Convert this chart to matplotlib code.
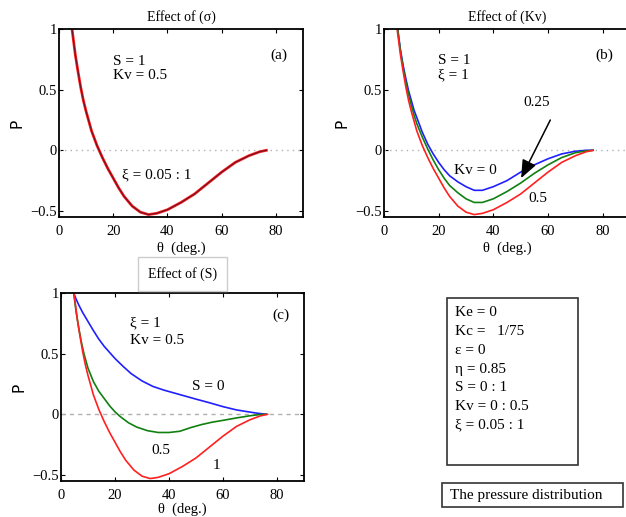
import matplotlib
matplotlib.use("Agg")
import matplotlib.pyplot as plt
from matplotlib.patches import Rectangle

plt.rcParams['font.family'] = ['Liberation Serif', 'DejaVu Serif']

# ---- data ----
# S = 1, Kv = 0.5 (same curve in all three panels)
th_red = [4.8, 6, 7, 8, 9, 10, 11, 12, 14, 16, 18, 20, 22, 24, 27, 30, 33, 36,
          40, 45, 50, 55, 60, 65, 70, 74, 76.5]
p_red = [1.0, 0.79, 0.65, 0.52, 0.41, 0.32, 0.24, 0.16, 0.04, -0.06, -0.15,
         -0.23, -0.31, -0.38, -0.46, -0.51, -0.53, -0.52, -0.49, -0.43, -0.36,
         -0.27, -0.18, -0.10, -0.045, -0.012, 0.0]

# panel (b): Kv = 0 and Kv = 0.25
th_b = [5, 6, 7, 8, 9, 10, 11, 12, 14, 16, 18, 20, 22, 24, 27, 30, 33, 36,
        40, 45, 50, 55, 60, 65, 70, 74, 76.5]
p_kv0 = [1.0, 0.83, 0.70, 0.59, 0.49, 0.41, 0.33, 0.27, 0.15, 0.05, -0.03,
         -0.10, -0.16, -0.21, -0.26, -0.30, -0.33, -0.33, -0.30, -0.25, -0.18,
         -0.12, -0.07, -0.03, -0.008, 0.0, 0.0]
p_kv025 = [1.0, 0.82, 0.68, 0.56, 0.46, 0.37, 0.29, 0.22, 0.11, 0.01, -0.08,
           -0.16, -0.23, -0.29, -0.35, -0.40, -0.43, -0.43, -0.40, -0.34, -0.27,
           -0.19, -0.12, -0.06, -0.02, -0.005, 0.0]

# panel (c): S = 0 and S = 0.5
th_s0 = [4.7, 5.5, 6.5, 8, 10, 12, 14, 16, 18, 20, 23, 26, 30, 34, 38, 42, 46,
         50, 55, 60, 65, 70, 73, 76]
p_s0 = [1.0, 0.955, 0.905, 0.84, 0.765, 0.69, 0.62, 0.56, 0.51, 0.46, 0.395,
        0.335, 0.275, 0.23, 0.20, 0.175, 0.15, 0.125, 0.095, 0.063, 0.036,
        0.018, 0.008, 0.0]
th_s05 = [4.7, 5.5, 6.5, 7.5, 8.5, 10, 12, 14, 16, 18, 20, 22, 25, 28, 32, 36,
          40, 44, 48, 52, 56, 60, 65, 70, 73, 76]
p_s05 = [1.0, 0.86, 0.72, 0.60, 0.50, 0.38, 0.27, 0.19, 0.13, 0.07, 0.02,
         -0.02, -0.07, -0.105, -0.135, -0.15, -0.15, -0.14, -0.11, -0.085,
         -0.065, -0.05, -0.03, -0.012, -0.004, 0.0]

xticks = [0, 20, 40, 60, 80]
yticks = [-0.5, 0, 0.5, 1]
ytick_labels = ['\u22120.5', '0', '0.5', '1']

params = ['Ke = 0', 'Kc =   1/75', '\u03b5 = 0', '\u03b7 = 0.85', 'S = 0 : 1',
          'Kv = 0 : 0.5', '\u03be = 0.05 : 1']

W, H = 626, 517
fig = plt.figure(figsize=(W / 100, H / 100), dpi=100)


def px_axes(x0, y0, x1, y1):
    return fig.add_axes([x0 / W, 1 - y1 / H, (x1 - x0) / W, (y1 - y0) / H])


def style(ax, xlpad=2):
    ax.set_xlim(0, 90)
    ax.set_ylim(-0.55, 1)
    ax.set_xticks(xticks)
    ax.set_yticks(yticks)
    ax.set_yticklabels(ytick_labels)
    ax.tick_params(direction='in', top=True, right=True, length=3,
                   width=0.8, labelsize=10.5)
    ax.tick_params(axis='x', pad=6)
    ax.tick_params(axis='y', pad=1.5)
    for s in ax.spines.values():
        s.set_linewidth(1.3)
    ax.set_xlabel('\u03b8  (deg.)', fontsize=10.5, labelpad=xlpad)
    ax.set_ylabel('P', family='DejaVu Sans', fontsize=11, labelpad=4)


txt = dict(fontsize=11, va='center')

# (a)
ax = px_axes(59, 29, 303, 217)
style(ax)
ax.axhline(0, color='#b0b0b0', lw=1, ls=(0, (1, 3)))
ax.plot(th_red, p_red, color='#ff2020', lw=2.0)
ax.plot(th_red, p_red, color='#7a1020', lw=0.9)
ax.set_title('Effect of (\u03c3)', fontsize=10, pad=6)
ax.text(19.9, 0.73, 'S = 1', **txt)
ax.text(19.9, 0.62, 'Kv = 0.5', **txt)
ax.text(81.2, 0.785, '(a)', ha='center', **txt)
ax.text(23.2, -0.2, '\u03be = 0.05 : 1', **txt)

# (b)
ax = px_axes(384, 29, 630, 217)
style(ax)
ax.axhline(0, color='#b0b0b0', lw=1, ls=(0, (1, 3)))
ax.plot(th_b, p_kv0, color='#2020ff', lw=1.2)
ax.plot(th_b, p_kv025, color='#108010', lw=1.2)
ax.plot(th_red, p_red, color='#ff2020', lw=1.2)
ax.set_title('Effect of (Kv)', fontsize=10, pad=6)
ax.text(19.8, 0.74, 'S = 1', **txt)
ax.text(19.8, 0.62, '\u03be = 1', **txt)
ax.text(80.7, 0.785, '(b)', ha='center', **txt)
ax.text(55.8, 0.39, '0.25', ha='center', **txt)
ax.annotate('', xy=(49.7, -0.25), xytext=(61.3, 0.27),
            arrowprops=dict(arrowstyle='-|>,head_length=1.1,head_width=0.45',
                            color='black', lw=1.1))
ax.text(25.6, -0.165, 'Kv = 0', **txt)
ax.text(52.7, -0.40, '0.5', **txt)

# (c)
ax = px_axes(61, 293, 304, 481)
style(ax, xlpad=0)
ax.axhline(0, color='#b0b0b0', lw=1, ls=(0, (3, 3)))
ax.plot(th_s0, p_s0, color='#2020ff', lw=1.2)
ax.plot(th_s05, p_s05, color='#108010', lw=1.2)
ax.plot(th_red, p_red, color='#ff2020', lw=1.2)
ax.set_title('Effect of (S)', fontsize=10, pad=11,
             bbox=dict(boxstyle='square,pad=0.75', fc='white', ec='#cccccc',
                       lw=1))
ax.text(25.4, 0.75, '\u03be = 1', **txt)
ax.text(25.4, 0.61, 'Kv = 0.5', **txt)
ax.text(81.3, 0.82, '(c)', ha='center', **txt)
ax.text(48.7, 0.23, 'S = 0', **txt)
ax.text(33.4, -0.30, '0.5', **txt)
ax.text(56.1, -0.42, '1', **txt)

# parameter box
fig.patches.append(Rectangle((447 / W, 1 - 465 / H), 131 / W, 167 / H,
                             transform=fig.transFigure, fill=False,
                             ec='#333333', lw=1.2))
for i, line in enumerate(params):
    fig.text(455 / W, 1 - (313 + 18.7 * i) / H, line, fontsize=11,
             va='center')

fig.patches.append(Rectangle((442 / W, 1 - 507 / H), 181 / W, 24 / H,
                             transform=fig.transFigure, fill=False,
                             ec='#333333', lw=1.2))
fig.text(450 / W, 1 - 495 / H, 'The pressure distribution', fontsize=11,
         va='center')

fig.savefig('out.png', dpi=100, facecolor='white')
